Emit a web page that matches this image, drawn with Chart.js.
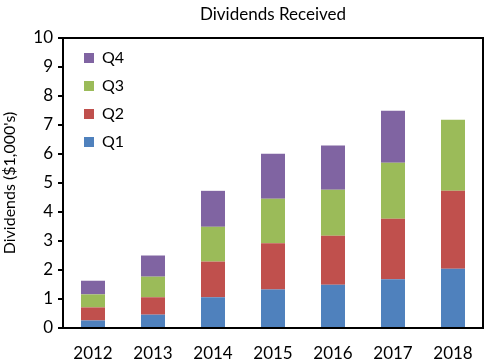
<!DOCTYPE html>
<html lang="en">
   <head>
      <meta charset="UTF-8">
      <meta name="viewport" content="width=device-width, initial-scale=1.0">
      <title>Dividends Received</title>
      <script src="https://cdn.jsdelivr.net/npm/chart.js"></script>
      <style>
         html, body { margin: 0; padding: 0; background: #fff; }
         .chart-box { width: 491px; height: 364px; }
      </style>
   </head>
   <body>
      <div class="chart-box">
         <canvas id="dividendChart"></canvas>
      </div>
      <script>
         // Data (thousands of dollars)
         const years = ['2012', '2013', '2014', '2015', '2016', '2017', '2018'];
         const q1 = [0.26, 0.46, 1.06, 1.33, 1.49, 1.68, 2.04];
         const q2 = [0.45, 0.60, 1.23, 1.59, 1.69, 2.09, 2.69];
         const q3 = [0.45, 0.71, 1.20, 1.54, 1.59, 1.93, 2.45];
         const q4 = [0.47, 0.73, 1.24, 1.55, 1.52, 1.79, null];
         const yTicks = [0, 1, 2, 3, 4, 5, 6, 7, 8, 9, 10];

         const fontName = 'Lato, "Open Sans", sans-serif';

         // black frame round the plot area (top and right edges too)
         const plotFrame = {
             id: 'plotFrame',
             afterDraw(chart) {
                 const { ctx, chartArea } = chart;
                 ctx.save();
                 ctx.strokeStyle = '#000';
                 ctx.lineWidth = 2;
                 ctx.strokeRect(chartArea.left, chartArea.top, chartArea.right - chartArea.left, chartArea.bottom - chartArea.top);
                 ctx.restore();
             }
         };

         // put the legend in the top left corner of the plot
         const legendShift = {
             id: 'legendShift',
             afterLayout(chart) {
                 chart.legend.left = chart.chartArea.left + 9;
                 chart.legend.top = chart.chartArea.top;
             }
         };

         document.addEventListener("DOMContentLoaded", function () {
             const ctx = document.getElementById('dividendChart').getContext('2d');
             new Chart(ctx, {
                 type: 'bar',
                 data: {
                     labels: years,
                     datasets: [
                         { label: 'Q1', data: q1, backgroundColor: '#4F81BD' },
                         { label: 'Q2', data: q2, backgroundColor: '#C0504D' },
                         { label: 'Q3', data: q3, backgroundColor: '#9BBB59' },
                         { label: 'Q4', data: q4, backgroundColor: '#8064A2' }
                     ]
                 },
                 options: {
                     responsive: true,
                     maintainAspectRatio: false,
                     animation: false,
                     datasets: {
                         bar: { barPercentage: 0.4, categoryPercentage: 1, borderWidth: 0 }
                     },
                     layout: { padding: { left: 0, right: 8, top: 0, bottom: 0 } },
                     plugins: {
                         title: {
                             display: true,
                             text: 'Dividends Received',
                             fullSize: false,
                             color: '#000',
                             font: { family: fontName, size: 17, weight: 'normal' },
                             padding: { top: 4, bottom: 13.6 }
                         },
                         legend: {
                             position: 'chartArea',
                             align: 'start',
                             reverse: true,
                             labels: {
                                 boxWidth: 10,
                                 boxHeight: 10,
                                 padding: 12,
                                 color: '#000',
                                 font: { family: fontName, size: 16 }
                             }
                         },
                         tooltip: { enabled: false }
                     },
                     scales: {
                         x: {
                             stacked: true,
                             grid: { display: true, drawOnChartArea: false, drawTicks: false },
                             border: { color: '#000', width: 2 },
                             ticks: { color: '#000', padding: 15, font: { family: fontName, size: 17 } },
                             afterFit(scale) { scale.height = 36; }
                         },
                         y: {
                             stacked: true,
                             min: 0,
                             max: 10,
                             afterBuildTicks(scale) {
                                 scale.ticks = yTicks.map(v => ({ value: v }));
                             },
                             grid: { display: true, drawOnChartArea: false, drawTicks: true, tickLength: 5, color: '#000', lineWidth: 2 },
                             border: { color: '#000', width: 2 },
                             ticks: { color: '#000', padding: 5, font: { family: fontName, size: 17 } },
                             title: {
                                 display: true,
                                 text: "Dividends ($1,000's)",
                                 color: '#000',
                                 font: { family: fontName, size: 16 },
                                 padding: { top: 0, bottom: 0 }
                             },
                             afterFit(scale) { scale.width = 63; }
                         }
                     }
                 },
                 plugins: [plotFrame, legendShift]
             });
         });
      </script>
   </body>
</html>
